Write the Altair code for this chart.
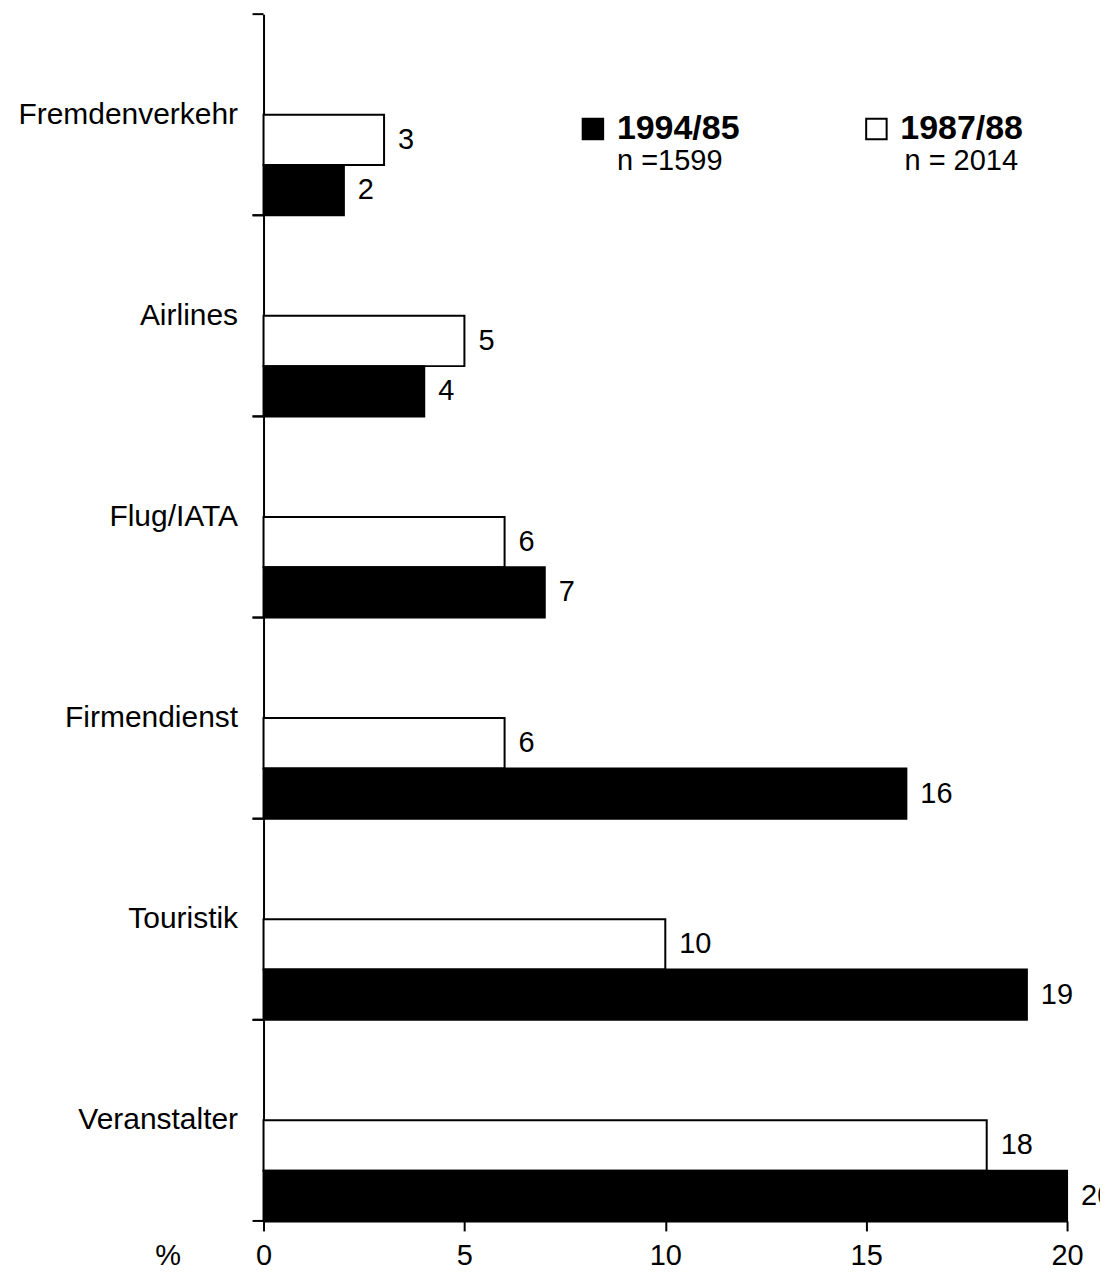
import altair as alt
import pandas as pd

categories = ["Fremdenverkehr", "Airlines", "Flug/IATA", "Firmendienst", "Touristik", "Veranstalter"]
values_8788 = [3, 5, 6, 6, 10, 18]
values_9485 = [2, 4, 7, 16, 19, 20]
series = ["1994/85", "1987/88"]
sample_sizes = ["n =1599", "n = 2014"]
x_ticks = [0, 5, 10, 15, 20]

rows = []
for c, a, b in zip(categories, values_8788, values_9485):
    rows.append({"cat": c, "series": "1987/88", "value": a})
    rows.append({"cat": c, "series": "1994/85", "value": b})
df = pd.DataFrame(rows)
df_cats = pd.DataFrame({"cat": categories})

FONT = "Liberation Sans"

y_scale = alt.Scale(domain=categories, paddingInner=0, paddingOuter=0)
y_enc = alt.Y(
    "cat:N",
    sort=categories,
    scale=y_scale,
    axis=alt.Axis(
        title=None, ticks=False, tickSize=0, labelPadding=26, labelFontSize=30,
        labelFont=FONT, labelColor="black", domainColor="black", domainWidth=2,
        labelAlign="right", labelBaseline="middle", labelLimit=400, grid=False,
    ),
)
yoff = alt.YOffset(
    "series:N",
    scale=alt.Scale(domain=["1987/88", "1994/85"], paddingInner=0, paddingOuter=1, align=1),
)
x_enc = alt.X(
    "value:Q",
    scale=alt.Scale(domain=[0, 20], nice=False, zero=True),
    axis=alt.Axis(
        values=x_ticks, title="%", grid=False, domain=True, domainColor="black",
        domainWidth=2, ticks=True, tickColor="black", tickSize=10, tickWidth=2,
        labelFontSize=29, labelPadding=11, labelFont=FONT, labelColor="black",
        labelFlush=False, labelOverlap=False,
        titleX=-96, titleY=21, titleAlign="center", titleBaseline="top",
        titleFontSize=29, titleFontWeight="normal", titleFont=FONT, titleColor="black",
    ),
)
color_enc = alt.Color(
    "series:N",
    scale=alt.Scale(domain=series, range=["black", "white"]),
    legend=alt.Legend(
        title=None, orient="none", legendX=313, legendY=98, direction="horizontal",
        columns=2, symbolType="square", symbolSize=420, symbolStrokeColor="black",
        symbolStrokeWidth=2, labelFontSize=34, labelFontWeight="bold", labelFont=FONT,
        labelColor="black", labelOffset=7, columnPadding=120, padding=0,
        symbolOpacity=1,
    ),
)

bars = alt.Chart(df).mark_bar(stroke="black", strokeWidth=2).encode(
    x=x_enc, y=y_enc, yOffset=yoff, color=color_enc
)
labels = alt.Chart(df).mark_text(
    align="left", baseline="middle", dx=14, fontSize=29, font=FONT, color="black"
).encode(x="value:Q", y=alt.Y("cat:N", sort=categories), yOffset="series:N", text="value:Q")

ticks_top = alt.Chart(df_cats).mark_rule(color="black", strokeWidth=2).encode(
    y=alt.Y("cat:N", sort=categories, bandPosition=0), x=alt.value(-11), x2=alt.value(0)
)
ticks_bottom = alt.Chart(df_cats).mark_rule(color="black", strokeWidth=2).encode(
    y=alt.Y("cat:N", sort=categories, bandPosition=1), x=alt.value(-11), x2=alt.value(0)
)

n1 = alt.Chart(pd.DataFrame({"n": [sample_sizes[0]]})).mark_text(
    align="center", baseline="middle", fontSize=29, font=FONT, color="black"
).encode(x=alt.value(407), y=alt.value(147), text="n:N")
n2 = alt.Chart(pd.DataFrame({"n": [sample_sizes[1]]})).mark_text(
    align="center", baseline="middle", fontSize=29, font=FONT, color="black"
).encode(x=alt.value(699), y=alt.value(147), text="n:N")

chart = alt.layer(bars, labels, ticks_top, ticks_bottom, n1, n2).properties(
    width=805,
    height=1209,
    autosize=alt.AutoSizeParams(type="none"),
    padding={"left": 256, "top": 5, "right": 33, "bottom": 50},
).configure_view(stroke=None)

chart.save("out.html", embed_options={"renderer": "svg", "actions": False})
